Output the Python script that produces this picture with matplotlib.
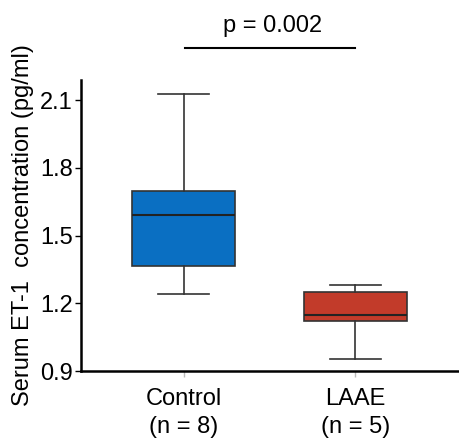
import matplotlib
matplotlib.use("Agg")
import matplotlib.pyplot as plt

# values
groups = ["Control\n(n = 8)", "LAAE\n(n = 5)"]
whislo = [1.243, 0.952]
q1 = [1.365, 1.122]
med = [1.593, 1.147]
q3 = [1.700, 1.250]
whishi = [2.130, 1.282]
colors = ["#0A6FC2", "#C23B2A"]
yticks = [0.9, 1.2, 1.5, 1.8, 2.1]
p_text = "p = 0.002"


def main():
    plt.rcParams["font.family"] = ["Liberation Sans", "DejaVu Sans"]
    fig = plt.figure(figsize=(4.59, 4.44), dpi=100)
    ax = fig.add_axes([0.1765, 0.1644, 0.83, 0.6554])

    stats = []
    for i in range(len(groups)):
        stats.append({"whislo": whislo[i], "q1": q1[i], "med": med[i],
                      "q3": q3[i], "whishi": whishi[i], "fliers": []})

    bp = ax.bxp(stats, positions=[1, 2], widths=0.6, patch_artist=True,
                showfliers=False,
                boxprops=dict(edgecolor="#333333", linewidth=1.2),
                medianprops=dict(color="#222222", linewidth=1.5),
                whiskerprops=dict(color="#333333", linewidth=1.2),
                capprops=dict(color="#333333", linewidth=1.2))
    for patch, c in zip(bp["boxes"], colors):
        patch.set_facecolor(c)
    for cap in bp["caps"]:
        x = cap.get_xdata()
        mid = (x[0] + x[1]) / 2
        cap.set_xdata([mid - 0.15, mid + 0.15])

    ax.set_xlim(0.402, 2.62)
    ax.set_ylim(0.9, 2.19)
    ax.set_yticks(yticks)
    ax.set_yticklabels([str(t) for t in yticks])
    ax.set_xticks([1, 2])
    ax.set_xticklabels(groups, fontsize=17, linespacing=1.35)
    ax.tick_params(axis="y", labelsize=17, length=4, width=1, pad=2)
    ax.tick_params(axis="x", length=4, width=1, pad=8, colors="#bbbbbb",
                   labelcolor="black")
    for s in ["top", "right"]:
        ax.spines[s].set_visible(False)
    ax.spines["left"].set_linewidth(1.8)
    ax.spines["bottom"].set_linewidth(1.8)

    ax.set_ylabel("Serum ET-1  concentration (pg/ml)", fontsize=17, labelpad=4)

    ax.plot([1.01, 2.0], [2.33, 2.33], color="black", linewidth=1.5, clip_on=False)
    ax.text(1.52, 2.43, p_text, ha="center", va="center", fontsize=17)

    fig.savefig("out.png", dpi=100)


if __name__ == "__main__":
    main()
